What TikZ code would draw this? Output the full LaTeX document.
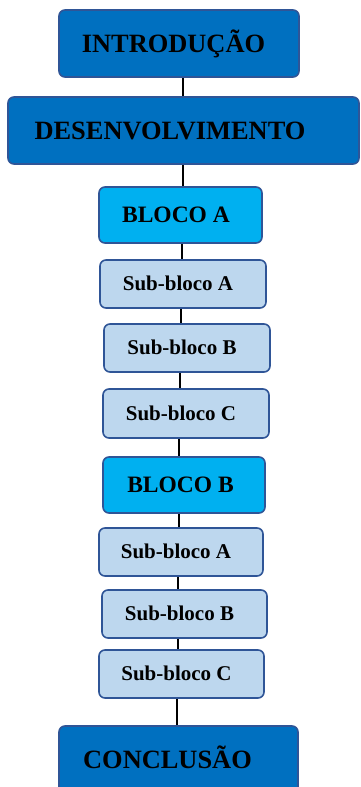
\documentclass[tikz,border=0pt]{standalone}
\usepackage{fontspec}
\setmainfont{Liberation Serif}
\definecolor{mainblue}{HTML}{0070C0}
\definecolor{blockblue}{HTML}{00B0F0}
\definecolor{subblue}{HTML}{BDD7EE}
\definecolor{edgeblue}{HTML}{2F5597}
\begin{document}
\begin{tikzpicture}[x=1pt,y=-1pt,
  box/.style={draw=edgeblue, line width=1.6pt, rounded corners=6pt,
    inner sep=0pt, text depth=0pt, font=\bfseries},
  tshift/.style={execute at end node={\hspace*{#1}}},
  sectionbox/.style={box, fill=mainblue, minimum height=67pt, text height=17.4pt,
    font=\bfseries\fontsize{26.4}{30}\selectfont},
  blockbox/.style={box, fill=blockblue, minimum width=163pt, minimum height=56pt,
    text height=15.5pt, font=\bfseries\fontsize{23.5}{27}\selectfont},
  subbox/.style={box, fill=subblue, minimum width=165pt, minimum height=48pt,
    text height=13.9pt, font=\bfseries\fontsize{21}{25}\selectfont},
  link/.style={draw=black, line width=1.2pt}]
\useasboundingbox (0,0) rectangle (360,787);

% section and block boxes, top to bottom
\node[sectionbox, minimum width=240pt, tshift=11pt] (intro) at (179,43.5) {INTRODUÇÃO};
\node[sectionbox, minimum width=351pt, tshift=27pt] (desenv) at (183.5,130.5) {DESENVOLVIMENTO};
\node[blockbox, tshift=9pt] (blocoA) at (180.5,215) {BLOCO A};
\node[subbox, minimum width=166pt, tshift=10pt] (subAA) at (183,284) {Sub-bloco A};
\node[subbox, minimum width=166pt, tshift=10pt] (subAB) at (187,348) {Sub-bloco B};
\node[subbox, minimum width=166pt, minimum height=49pt, tshift=10pt] (subAC) at (186,413.5) {Sub-bloco C};
\node[blockbox, minimum width=162pt, tshift=7pt] (blocoB) at (184,485) {BLOCO B};
\node[subbox, minimum width=164pt, tshift=10pt] (subBA) at (181,552) {Sub-bloco A};
\node[subbox, tshift=10pt] (subBB) at (184.5,614) {Sub-bloco B};
\node[subbox, tshift=10pt] (subBC) at (181.5,674) {Sub-bloco C};
\node[sectionbox, minimum width=239pt, tshift=22pt] (concl) at (178.5,759.5) {CONCLUSÃO};

% vertical connectors between consecutive boxes
\draw[link] (intro.south -| 183,0) -- (desenv.north -| 183,0);
\draw[link] (desenv.south -| 183,0) -- (blocoA.north -| 183,0);
\draw[link] (blocoA.south -| 182,0) -- (subAA.north -| 182,0);
\draw[link] (subAA.south -| 181,0) -- (subAB.north -| 181,0);
\draw[link] (subAB.south -| 180,0) -- (subAC.north -| 180,0);
\draw[link] (subAC.south -| 179,0) -- (blocoB.north -| 179,0);
\draw[link] (blocoB.south -| 179,0) -- (subBA.north -| 179,0);
\draw[link] (subBA.south -| 178,0) -- (subBB.north -| 178,0);
\draw[link] (subBB.south -| 178,0) -- (subBC.north -| 178,0);
\draw[link] (subBC.south -| 177,0) -- (concl.north -| 177,0);
\end{tikzpicture}
\end{document}
